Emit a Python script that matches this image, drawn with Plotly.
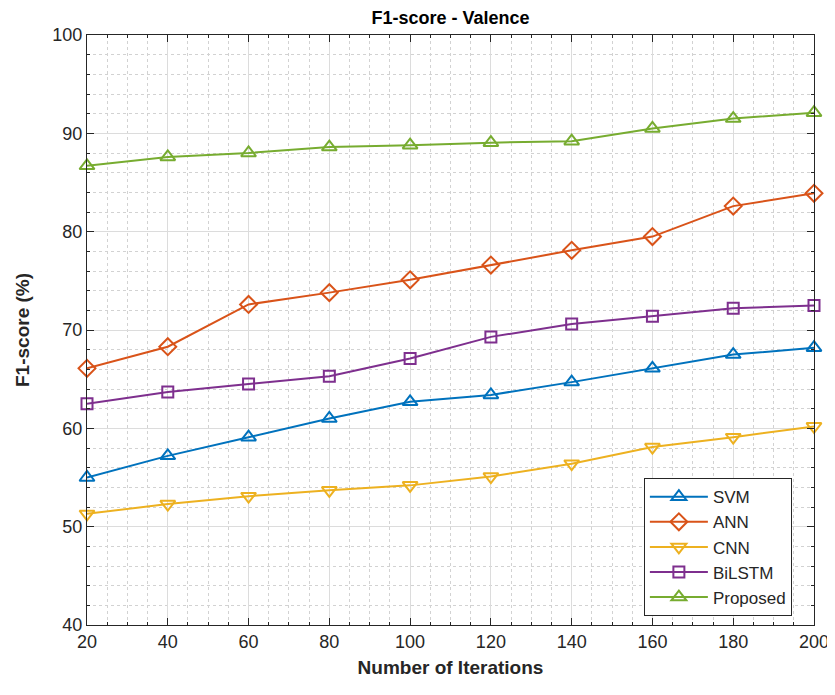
import plotly.graph_objects as go

iterations = [20, 40, 60, 80, 100, 120, 140, 160, 180, 200]
svm = [55.0, 57.2, 59.1, 61.0, 62.7, 63.4, 64.7, 66.1, 67.5, 68.2]
ann = [66.1, 68.3, 72.6, 73.8, 75.1, 76.6, 78.1, 79.5, 82.6, 83.9]
cnn = [51.3, 52.3, 53.1, 53.7, 54.2, 55.1, 56.4, 58.1, 59.1, 60.2]
bilstm = [62.5, 63.7, 64.5, 65.3, 67.1, 69.3, 70.6, 71.4, 72.2, 72.5]
proposed = [86.7, 87.6, 88.0, 88.6, 88.8, 89.05, 89.2, 90.5, 91.5, 92.1]

series = [
    ("SVM", svm, "#0072BD", "triangle-up-open"),
    ("ANN", ann, "#D95319", "diamond-open"),
    ("CNN", cnn, "#EDB120", "triangle-down-open"),
    ("BiLSTM", bilstm, "#7E2F8E", "square-open"),
    ("Proposed", proposed, "#77AC30", "triangle-up-open"),
]

fig = go.Figure()
for name, vals, color, sym in series:
    fig.add_trace(go.Scatter(
        x=iterations, y=vals, name=name, mode="lines+markers",
        line=dict(color=color, width=2),
        marker=dict(symbol=sym, size=13 if sym != "square-open" else 11,
                    color=color, line=dict(color=color, width=2)),
        cliponaxis=False,
    ))

font_family = "Liberation Sans, Arial, sans-serif"
axis_common = dict(
    showline=True, linecolor="#262626", linewidth=1, mirror="allticks",
    ticks="inside", ticklen=7, tickcolor="#262626",
    showgrid=True, gridcolor="#dcdcdc", gridwidth=1,
    zeroline=False, automargin=False,
    tickfont=dict(family=font_family, size=18, color="#262626"),
)

# page body has an 8px margin, so the figure is sized to fit the window
fig.update_layout(
    width=827, height=687,
    paper_bgcolor="white", plot_bgcolor="white",
    margin=dict(l=79, r=21, t=27, b=70),
    title=dict(text="<b>F1-score - Valence</b>", x=0.5, xanchor="center",
               xref="paper", y=0.995, yanchor="top", automargin=False,
               font=dict(family=font_family, size=18, color="black")),
    xaxis=dict(
        range=[20, 200], tickmode="array", tickvals=iterations,
        title=dict(text="<b>Number of Iterations</b>", standoff=10,
                   font=dict(family=font_family, size=19, color="#262626")),
        minor=dict(dtick=5, showgrid=True, griddash="dot", gridcolor="#d2d2d2",
                   ticks="inside", ticklen=3, tickcolor="#262626"),
        **axis_common,
    ),
    yaxis=dict(
        range=[40, 100], dtick=10,
        title=dict(text="<b>F1-score (%)</b>", standoff=17,
                   font=dict(family=font_family, size=19, color="#262626")),
        minor=dict(dtick=2, showgrid=True, griddash="dot", gridcolor="#d2d2d2",
                   ticks="inside", ticklen=3, tickcolor="#262626"),
        **axis_common,
    ),
    legend=dict(
        x=0.766, y=0.015, xanchor="left", yanchor="bottom",
        bgcolor="white", bordercolor="#262626", borderwidth=1,
        font=dict(family=font_family, size=17, color="#262626"),
        itemwidth=58, tracegroupgap=2,
    ),
    showlegend=True,
)

fig.write_html("out.html")
